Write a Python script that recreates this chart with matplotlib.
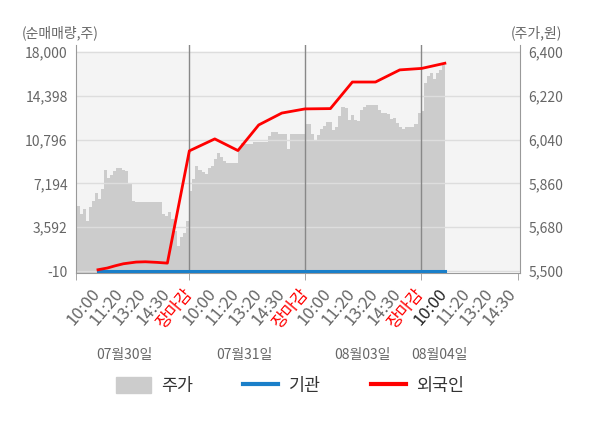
import matplotlib
matplotlib.use('Agg')
import matplotlib.pyplot as plt
from matplotlib.patches import Patch
from matplotlib.lines import Line2D
import numpy as np

plt.rcParams['font.family'] = ['Noto Sans CJK KR', 'DejaVu Sans']

# stock price (won), sampled evenly through each trading day
price_d1 = [5696, 5767, 5733, 5754, 5706, 5765, 5788, 5822, 5795, 5838,
            5914, 5883, 5893, 5910, 5924, 5924, 5917, 5910, 5863, 5788,
            5783, 5783, 5783, 5783, 5783, 5783, 5783, 5783, 5783, 5733,
            5726, 5743, 5713, 5665, 5603, 5638, 5658, 5706]
price_d2 = [5828, 5880, 5931, 5917, 5908, 5897, 5925, 5931, 5960, 5985,
            5970, 5951, 5945, 5945, 5945, 5945, 6000, 6026, 6020, 6020,
            6020, 6031, 6031, 6031, 6031, 6031, 6053, 6071, 6071, 6063,
            6063, 6063, 6000, 6063, 6065, 6065, 6065, 6065]
price_d3 = [6105, 6105, 6062, 6040, 6060, 6084, 6095, 6111, 6111, 6081,
            6090, 6135, 6175, 6170, 6122, 6142, 6122, 6115, 6163, 6176,
            6183, 6183, 6183, 6183, 6160, 6149, 6149, 6145, 6125, 6130,
            6108, 6092, 6085, 6092, 6092, 6092, 6105, 6150]
price_d4 = [6156, 6272, 6300, 6315, 6290, 6315, 6328, 6345]
samples_per_day = 38

# cumulative net buying (shares), time in slot units (5 slots per day)
flow_t = [1.05, 1.45, 1.8, 2.15, 2.7, 3.1, 3.6, 4.05, 5.0, 6.1, 7.1, 8.0,
          9.0, 10.0, 11.1, 12.05, 13.05, 14.1, 15.05, 16.05]
foreign = [96, 236, 424, 588, 727, 751, 702, 640, 9870, 10853, 9896, 12000,
           12979, 13320, 13345, 15530, 15530, 16527, 16650, 17073]
inst = [0] * len(flow_t)

days = ['07월30일', '07월31일', '08월03일', '08월04일']
day_label_x = [2.2, 7.4, 12.5, 15.8]
time_labels = ['10:00', '11:20', '13:20', '14:30', '장마감']

left_ticks = [-10, 3592, 7194, 10796, 14398, 18000]
right_ticks = [5500, 5680, 5860, 6040, 6220, 6400]

fig = plt.figure(figsize=(6, 4.28), dpi=100)
ax = fig.add_axes([0.1267, 0.3621, 0.74, 0.5327])
ax2 = ax.twinx()
ax.set_zorder(ax2.get_zorder() + 1)
ax.patch.set_visible(False)

# price area on right axis
px, py = [], []
for d, vals in enumerate([price_d1, price_d2, price_d3, price_d4]):
    for i, v in enumerate(vals):
        px.append(5 * d + i * 5 / samples_per_day)
        py.append(v)
px.append(px[-1] + 5 / samples_per_day)
py.append(py[-1])
ax2.axhspan(5500, 6400, color='#f4f4f4', zorder=0)
ax2.fill_between(px, 5400, py, step='post', color='#cccccc', lw=0, zorder=1)
for t in right_ticks:
    ax2.axhline(t, color='#dddddd', lw=1, zorder=2)
for b in [5, 10, 15]:
    ax2.axvline(b, color='#888888', lw=1, zorder=3)

ax2.set_ylim(5500 - 2 * 4.082, 6400 + 7 * 4.082)
ax.set_ylim(-10 - 2 * 81.7, 18000 + 7 * 81.7)
ax.set_xlim(0.1, 19.2)

ax.plot(flow_t, inst, color='#1a7fc9', lw=2.2, zorder=4)
ax.plot(flow_t, foreign, color='#ff0000', lw=2, zorder=5)

ax.set_yticks(left_ticks)
ax.set_yticklabels([f'{v:,}' for v in left_ticks])
ax2.set_yticks(right_ticks)
ax2.set_yticklabels([f'{v:,}' for v in right_ticks])
for a in (ax, ax2):
    a.tick_params(axis='y', length=0, labelsize=10, labelcolor='#666666', pad=6)
    for s in ['top', 'bottom', 'left', 'right']:
        a.spines[s].set_visible(False)
for s in ['left', 'right', 'bottom']:
    ax.spines[s].set_visible(True)
    ax.spines[s].set_color('#999999')

# x ticks
xt, xl, xc = [], [], []
for d in range(4):
    n = 4 if d == 3 else 5
    for k in range(n):
        xt.append(5 * d + k + 1.3)
        xl.append(time_labels[k])
        if k == 4:
            xc.append('red')
        elif d == 3 and k == 0:
            xc.append('#222222')
        else:
            xc.append('#666666')
ax.set_xticks(xt)
ax.set_xticklabels(xl, rotation=50, ha='right', fontsize=12)
for lab, c in zip(ax.get_xticklabels(), xc):
    lab.set_color(c)
ax.tick_params(axis='x', length=0, pad=9)
ax.set_xticks([0.1, 5, 10, 15, 19.2], minor=True)
ax.tick_params(axis='x', which='minor', length=5, color='#999999')

for lx, dl in zip(day_label_x, days):
    ax.text(lx, -0.36, dl, transform=ax.get_xaxis_transform(), ha='center',
            va='center', fontsize=10, color='#666666')

fig.text(22 / 600, 1 - 33 / 428, '(순매매량,주)', ha='left', va='center',
         fontsize=10, color='#666666')
fig.text(562 / 600, 1 - 33 / 428, '(주가,원)', ha='right', va='center',
         fontsize=10, color='#666666')

handles = [Patch(color='#cccccc'),
           Line2D([], [], color='#1a7fc9', lw=3),
           Line2D([], [], color='#ff0000', lw=3)]
fig.legend(handles, ['주가', '기관', '외국인'], loc='center',
           bbox_to_anchor=(290 / 600, 1 - 386 / 428), ncol=3, frameon=False,
           fontsize=12.5, handlelength=2.0, handleheight=1.0, handletextpad=0.6,
           columnspacing=2.9, labelcolor='#333333')

fig.savefig('out.png', dpi=100)
